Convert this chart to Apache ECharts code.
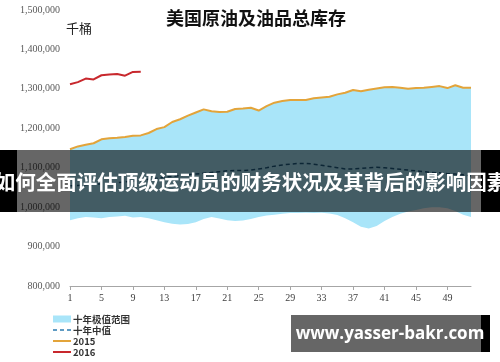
<!DOCTYPE html>
<html>
<head>
<meta charset="utf-8">
<script src="https://cdn.jsdelivr.net/npm/echarts@6/dist/echarts.min.js"></script>
<style>html,body{margin:0;padding:0;background:#fff;}#c{width:500px;height:362px;}</style>
</head>
<body>
<div id="c"></div>
<script>
var weeks = [];
for (var i = 1; i <= 52; i++) weeks.push(String(i));

var yTicks = [800000, 900000, 1000000, 1100000, 1200000, 1300000, 1400000, 1500000];

var legendNames = ['十年极值范围', '十年中值', '2015', '2016'];

var rangeLow = [967000, 972000, 975000, 974000, 972000, 975000, 976000, 978000, 974000, 975000,
  972000, 967000, 962000, 958000, 956000, 957000, 962000, 970000, 975000, 971000,
  967000, 965000, 966000, 970000, 975000, 979000, 981000, 983000, 985000, 985000,
  986000, 985000, 986000, 984000, 980000, 972000, 962000, 950000, 946000, 952000,
  965000, 975000, 983000, 989000, 993000, 997000, 1000000, 1000000, 997000, 990000,
  981000, 975000];

var rangeHigh = [1147000, 1154000, 1158000, 1162000, 1172000, 1175000, 1176000, 1178000, 1181000, 1182000,
  1188000, 1198000, 1203000, 1216000, 1223000, 1232000, 1240000, 1248000, 1243000, 1241000,
  1242000, 1249000, 1250000, 1252000, 1245000, 1256000, 1265000, 1269000, 1272000, 1272000,
  1272000, 1276000, 1278000, 1280000, 1286000, 1290000, 1297000, 1294000, 1298000, 1301000,
  1304000, 1305000, 1303000, 1300000, 1302000, 1303000, 1305000, 1307000, 1302000, 1309000,
  1303000, 1303000];

var median10 = [1054000, 1055000, 1057000, 1058000, 1059000, 1061000, 1062000, 1064000, 1066000, 1068000,
  1071000, 1073000, 1076000, 1078000, 1080000, 1082000, 1084000, 1086000, 1088000, 1090000,
  1092000, 1093000, 1093000, 1094000, 1097000, 1100000, 1104000, 1107000, 1109000, 1111000,
  1111000, 1109000, 1106000, 1103000, 1100000, 1097000, 1097000, 1098000, 1100000, 1101000,
  1100000, 1098000, 1096000, 1094000, 1092000, 1090000, 1088000, 1087000, 1085000, 1084000,
  1082000, 1079000];

var y2015 = rangeHigh.slice();

var y2016 = [1311500, 1317000, 1326000, 1324000, 1334500, 1336500, 1337500, 1333500, 1343000, 1343500];

var bandSpan = rangeHigh.map(function (v, i) { return v - rangeLow[i]; });

var COL_BAND = '#a9e5f9', COL_MED = '#2b7bb0', COL_15 = '#e3a43a', COL_16 = '#c8282d';

var legendRows = [319, 330, 341, 352];
var legendGraphics = [
  {type: 'rect', shape: {x: 53, y: legendRows[0] - 3.5, width: 18, height: 7}, style: {fill: COL_BAND}},
  {type: 'line', shape: {x1: 53, y1: legendRows[1], x2: 71, y2: legendRows[1]}, style: {stroke: COL_MED, lineWidth: 1.5, lineDash: [4, 3]}},
  {type: 'line', shape: {x1: 53, y1: legendRows[2], x2: 71, y2: legendRows[2]}, style: {stroke: COL_15, lineWidth: 2}},
  {type: 'line', shape: {x1: 53, y1: legendRows[3], x2: 71, y2: legendRows[3]}, style: {stroke: COL_16, lineWidth: 2}}
];
legendNames.forEach(function (n, i) {
  legendGraphics.push({type: 'text', x: 73, y: legendRows[i], style: {text: n, fontSize: 9.5, fontWeight: 'bold', fill: '#333', fontFamily: 'Noto Sans CJK SC', textVerticalAlign: 'middle'}});
});

var chart = echarts.init(document.getElementById('c'), null, {renderer: 'canvas'});
chart.setOption({
  animation: false,
  grid: {left: 70, right: 29, top: 10, bottom: 76, containLabel: false},
  xAxis: {
    type: 'category',
    data: weeks,
    boundaryGap: false,
    axisLine: {lineStyle: {color: '#a6a6a6', width: 1}},
    axisTick: {show: true, interval: 3, length: 4, lineStyle: {color: '#a6a6a6'}},
    axisLabel: {interval: 3, color: '#404040', fontFamily: 'Liberation Serif', fontSize: 10, margin: 7},
    splitLine: {show: false}
  },
  yAxis: {
    type: 'value',
    min: yTicks[0],
    max: yTicks[yTicks.length - 1],
    interval: 100000,
    axisLine: {show: false},
    axisTick: {show: false},
    splitLine: {show: false},
    axisLabel: {
      color: '#595959', fontFamily: 'Liberation Serif', fontSize: 10, margin: 10,
      formatter: function (v) { return v.toLocaleString('en-US'); }
    }
  },
  series: [
    {
      name: 'low', type: 'line', stack: 'band', data: rangeLow,
      symbol: 'none', lineStyle: {opacity: 0, width: 0}, silent: true
    },
    {
      name: legendNames[0], type: 'line', stack: 'band', data: bandSpan,
      symbol: 'none', lineStyle: {opacity: 0, width: 0},
      itemStyle: {color: COL_BAND},
      areaStyle: {color: COL_BAND, opacity: 1}
    },
    {
      name: legendNames[1], type: 'line', data: median10, symbol: 'none',
      itemStyle: {color: COL_MED},
      lineStyle: {color: '#1f5f86', width: 1.5, type: [4, 3]}
    },
    {
      name: legendNames[2], type: 'line', data: y2015, symbol: 'none',
      itemStyle: {color: COL_15},
      lineStyle: {color: COL_15, width: 2}
    },
    {
      name: legendNames[3], type: 'line', data: y2016, symbol: 'none',
      itemStyle: {color: COL_16},
      lineStyle: {color: COL_16, width: 2}
    }
  ],
  graphic: legendGraphics.concat([
    {type: 'text', left: 66, top: 22, style: {text: '千桶', fontSize: 13, fill: '#222', fontFamily: 'Noto Sans CJK SC'}},
    {type: 'text', x: 256, y: 18, style: {text: '美国原油及油品总库存', fontSize: 18, fontWeight: 'bold', fill: '#111', fontFamily: 'Noto Sans CJK SC', textAlign: 'center', textVerticalAlign: 'middle'}},
    {type: 'rect', shape: {x: 0, y: 150, width: 500, height: 62}, style: {fill: 'rgba(0,0,0,0.6)'}, z: 100},
    {type: 'rect', shape: {x: 0, y: 150, width: 17, height: 62}, style: {fill: '#000'}, z: 100},
    {type: 'rect', shape: {x: 481, y: 150, width: 19, height: 62}, style: {fill: '#000'}, z: 100},
    {type: 'text', x: 251, y: 182, z: 101, style: {text: '如何全面评估顶级运动员的财务状况及其背后的影响因素', fontSize: 20.5, fontWeight: 'bold', fill: '#fff', fontFamily: 'Noto Sans CJK SC', textAlign: 'center', textVerticalAlign: 'middle'}},
    {type: 'rect', shape: {x: 291, y: 315, width: 190, height: 37}, style: {fill: 'rgba(0,0,0,0.6)'}, z: 100},
    {type: 'rect', shape: {x: 481, y: 315, width: 9, height: 37}, style: {fill: '#000'}, z: 100},
    {type: 'text', x: 390, y: 334, z: 101, style: {text: 'www.yasser-bakr.com', fontSize: 17, fontWeight: 'bold', fill: '#fff', fontFamily: 'Open Sans', textAlign: 'center', textVerticalAlign: 'middle'}}
  ])
});
</script>
</body>
</html>
